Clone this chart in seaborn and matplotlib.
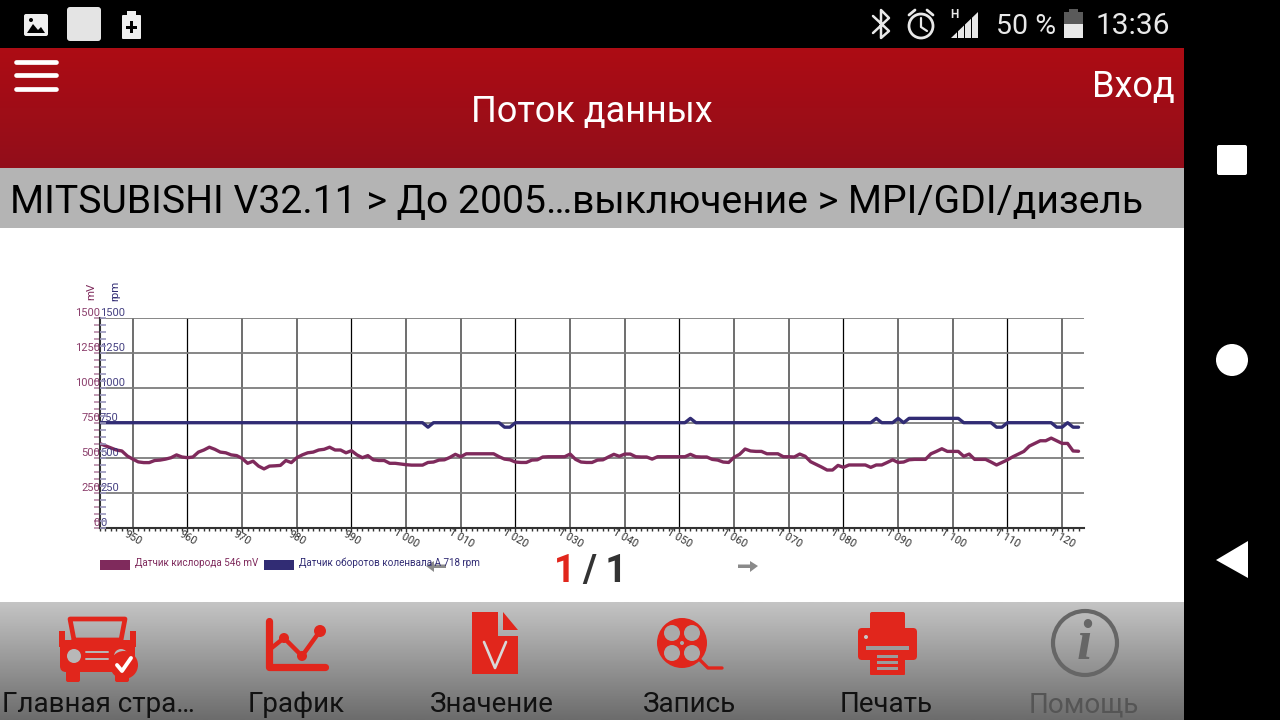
import numpy as np
import pandas as pd
import matplotlib
matplotlib.use('Agg')
import matplotlib.pyplot as plt
from matplotlib.patches import Rectangle, Circle, Polygon, FancyBboxPatch
import seaborn as sns

# Sample numbers on the x axis
samples = list(range(944, 1124))

# Oxygen sensor, mV
oxygen = [
    600, 585, 570, 555, 548, 512,
    490, 470, 465, 465, 480, 483, 490, 500, 520, 505,
    500, 505, 540, 555, 575, 560, 540, 535, 520, 515,
    495, 460, 475, 440, 420, 440, 442, 445, 480, 465,
    500, 520, 535, 540, 555, 560, 575, 555, 555, 535,
    550, 520, 500, 515, 485, 480, 480, 460, 460, 455,
    450, 447, 447, 447, 466, 469, 483, 485, 502, 524,
    507, 528, 528, 528, 528, 528, 528, 507, 490, 485,
    469, 466, 466, 483, 485, 505, 507, 507, 507, 507,
    526, 488, 469, 466, 466, 483, 485, 505, 524, 510,
    526, 526, 507, 505, 505, 490, 507, 507, 507, 507,
    507, 507, 524, 507, 505, 505, 488, 483, 469, 466,
    503, 524, 562, 548, 545, 545, 528, 528, 528, 507,
    507, 505, 526, 510, 471, 452, 433, 412, 412, 445,
    431, 448, 448, 448, 448, 431, 448, 448, 466, 485,
    466, 469, 485, 488, 488, 488, 528, 545, 564, 545,
    545, 545, 510, 526, 488, 488, 488, 469, 448, 466,
    485, 507, 526, 545, 583, 602, 621, 621, 640, 621,
    602, 602, 548, 546,
]

# Crankshaft speed, rpm
rpm = (
    [750] * 60 + [718] + [750] * 13 + [718, 718] + [750] * 32 + [781]
    + [750] * 33 + [781] + [750] * 3 + [781] + [750] + [781] * 10
    + [750] * 6 + [718, 718] + [750] * 9 + [718, 718, 750, 718, 718]
)

x_ticks = list(range(950, 1121, 10))
x_tick_labels = ['950', '960', '970', '980', '990', '1 000', '1 010', '1 020', '1 030',
                 '1 040', '1 050', '1 060', '1 070', '1 080', '1 090', '1 100', '1 110', '1 120']
dark_x_ticks = [960, 990, 1020, 1050, 1080, 1110]
y_ticks = [0, 250, 500, 750, 1000, 1250, 1500]
y_tick_labels = ['0', '250', '500', '750', '1000', '1250', '1500']

oxygen_label = 'Датчик кислорода 546 mV'
rpm_label = 'Датчик оборотов коленвала А 718 rpm'
crumbs = 'MITSUBISHI V32.11 > До 2005…выключение > MPI/GDI/дизель'
toolbar_labels = ['Главная стра…', 'График', 'Значение', 'Запись', 'Печать', 'Помощь']

PINK = '#7f2a5c'
BLUE = '#312c74'
RED = '#e1261c'

sns.set_theme(style='white')
plt.rcParams['font.family'] = ['Roboto', 'DejaVu Sans']

fig = plt.figure(figsize=(12.8, 7.2), dpi=100)

# Screen furniture, drawn in pixel coordinates
ui = fig.add_axes([0, 0, 1, 1], zorder=0)


def gradient(x0, x1, y0, y1, top, bottom):
    c0 = np.array(matplotlib.colors.to_rgb(top))
    c1 = np.array(matplotlib.colors.to_rgb(bottom))
    t = np.linspace(0, 1, 64)[:, None, None]
    ui.imshow(c0 * (1 - t) + c1 * t, extent=[x0, x1, y1, y0], aspect='auto', zorder=1)


def rect(x0, y0, x1, y1, color, z=2):
    ui.add_patch(Rectangle((x0, y0), x1 - x0, y1 - y0, fc=color, ec='none', zorder=z))


def rrect(x0, y0, x1, y1, color, r=3, z=3):
    ui.add_patch(FancyBboxPatch((x0 + r, y0 + r), x1 - x0 - 2 * r, y1 - y0 - 2 * r,
                                boxstyle=f'round,pad={r},rounding_size={r}',
                                fc=color, ec='none', zorder=z))


def circ(x, y, r, color, z=3):
    ui.add_patch(Circle((x, y), r, fc=color, ec='none', zorder=z))


def poly(points, color, z=3):
    ui.add_patch(Polygon(points, closed=True, fc=color, ec='none', zorder=z))


def stroke(xs, ys, color, lw, z=3):
    ui.plot(xs, ys, color=color, lw=lw, solid_capstyle='round', solid_joinstyle='round', zorder=z)


rect(0, 0, 1280, 720, 'white', z=0)
rect(0, 0, 1280, 48, 'black')
rect(1184, 0, 1280, 720, 'black')
gradient(0, 1184, 48, 168, '#ad0c14', '#920e1a')
rect(0, 168, 1184, 228, '#b4b4b4')
gradient(0, 1184, 602, 720, '#c4c4c4', '#6c6c6c')

# Status bar, left
rrect(24, 14, 48, 36, '#efefef', r=2)
poly([(27, 33), (33, 24), (38, 30), (41, 27), (45, 33)], 'black', z=4)
circ(31, 20, 2, 'black', z=4)
rrect(67, 7, 101, 41, '#e4e4e4', r=3)
rrect(122, 15, 141, 39, '#efefef', r=1)
rect(127, 11, 136, 15, '#efefef')
rect(130, 21, 133, 33, 'black', z=4)
rect(126, 26, 137, 29, 'black', z=4)

# Status bar, right
stroke([873, 889, 881, 881, 889, 873], [16, 31, 38, 10, 18, 33], '#e8e8e8', 1.8)
ui.add_patch(Circle((921, 26), 12, fc='none', ec='#e8e8e8', lw=2, zorder=3))
stroke([921, 921, 927], [18, 27, 31], '#e8e8e8', 1.6)
stroke([909, 915], [15, 10], '#e8e8e8', 2)
stroke([927, 933], [10, 15], '#e8e8e8', 2)
poly([(951, 38), (978, 12), (978, 38)], '#e8e8e8')
for gap in [957.5, 964.5, 971.5]:
    rect(gap - 0.7, 10, gap + 0.7, 40, 'black', z=4)
ui.text(954, 14, 'H', color='#e8e8e8', fontsize=8.5, fontweight='bold', ha='center', va='center', zorder=4)
ui.text(1026, 26, '50 %', color='#e8e8e8', fontsize=20.5, ha='center', va='center', zorder=4)
rect(1064, 12, 1083, 38, '#5a5a5a')
rect(1069, 9, 1078, 12, '#5a5a5a')
rect(1064, 24, 1083, 38, '#e8e8e8', z=4)
ui.text(1133, 26, '13:36', color='#e8e8e8', fontsize=21.5, ha='center', va='center', zorder=4)

# Navigation bar
rrect(1217, 145, 1247, 175, 'white', r=2)
circ(1232, 360, 16, 'white')
poly([(1248, 541), (1248, 578), (1216, 560)], 'white')

# Header
for y in [62, 75, 89]:
    stroke([16, 56], [y, y], 'white', 3.4)
ui.text(592, 112, 'Поток данных', color='white', fontsize=26, ha='center', va='center', zorder=4)
ui.text(1133, 87, 'Вход', color='white', fontsize=26, ha='center', va='center', zorder=4)
ui.text(10, 202, crumbs, color='black', fontsize=28.2, ha='left', va='center', zorder=4)

# Legend under the chart
rect(100, 560, 130, 570, PINK)
ui.text(135, 563, oxygen_label, color=PINK, fontsize=7.1, ha='left', va='center', zorder=4)
rect(264, 560, 294, 570, BLUE)
ui.text(299, 563, rpm_label, color=BLUE, fontsize=7.15, ha='left', va='center', zorder=4)

# Page switch
poly([(426, 566), (434, 561), (434, 564.5), (446, 564.5), (446, 568), (434, 568), (434, 572)], '#8a8a8a')
poly([(758, 566), (750, 561), (750, 564.5), (738, 564.5), (738, 568), (750, 568), (750, 572)], '#8a8a8a')
ui.text(565, 572, '1', color=RED, fontsize=27, fontweight='bold', ha='center', va='center', zorder=4)
ui.text(605, 572, '/ 1', color='#333333', fontsize=27, fontweight='bold', ha='center', va='center', zorder=4)

# Toolbar: car
stroke([74, 70, 125, 121, 74], [640, 619, 619, 640, 640], RED, 3.4)
rrect(60, 640, 135, 672, RED, r=6)
rrect(66, 668, 80, 682, RED, r=2)
rrect(115, 668, 129, 682, RED, r=2)
rect(59, 631, 65, 647, RED)
rect(130, 631, 136, 647, RED)
circ(74, 656, 7, '#b8b8b8', z=4)
circ(121, 656, 7, '#b8b8b8', z=4)
stroke([86, 108], [652, 652], '#b8b8b8', 1.4, z=4)
stroke([86, 108], [659, 659], '#b8b8b8', 1.4, z=4)
circ(124, 665, 14, RED, z=5)
stroke([117, 122, 131], [665, 671, 658], 'white', 2.8, z=6)

# Toolbar: graph
stroke([269, 269, 325], [621, 667, 667], RED, 5.2)
stroke([269, 284, 302, 320], [650, 638, 656, 631], RED, 3.2)
circ(284, 638, 5, RED)
circ(302, 656, 5, RED)
circ(320, 631, 6, RED)

# Toolbar: value sheet
poly([(472, 612), (498, 612), (498, 636), (518, 636), (518, 674), (472, 674)], RED)
poly([(503, 612), (518, 630), (503, 630)], RED)
stroke([484, 495, 506], [642, 668, 642], '#d8d8d8', 1.9, z=4)

# Toolbar: film reel
circ(682, 643, 25, RED)
for hx, hy in [(672, 633), (692, 633), (672, 653), (692, 653)]:
    circ(hx, hy, 8, '#aaaaaa', z=4)
circ(682, 643, 2, '#aaaaaa', z=4)
stroke([700, 708, 722], [660, 668, 668], RED, 2.4)

# Toolbar: printer
rrect(870, 612, 905, 630, RED, r=2)
rrect(858, 628, 917, 660, RED, r=4)
rect(866, 646, 909, 650, '#9c9c9c', z=4)
rrect(870, 650, 905, 675, RED, r=1, z=5)
for y in [656, 662, 668]:
    rect(877, y - 1.5, 898, y + 1.5, '#9c9c9c', z=6)
circ(866, 637, 2, '#c8c8c8', z=4)

# Toolbar: help
ui.add_patch(Circle((1085, 643), 32, fc='none', ec='#666666', lw=3, zorder=3))
ui.text(1084, 645, 'i', color='#666666', fontsize=40, family='Liberation Serif',
        fontstyle='italic', fontweight='bold', ha='center', va='center', zorder=4)

# Toolbar captions
label_xs = [98, 296, 492, 689, 886, 1084]
for lx, text in zip(label_xs, toolbar_labels):
    color = '#555555' if text == 'Помощь' else '#111111'
    ui.text(lx, 705, text, color=color, fontsize=20, ha='center', va='center', zorder=4)

ui.set_xlim(0, 1280)
ui.set_ylim(720, 0)
ui.axis('off')

# Chart area
ax = fig.add_axes([100 / 1280, (720 - 527.7) / 720, 984 / 1280, 210 / 720], zorder=2)
ax.patch.set_alpha(0)

for x in x_ticks:
    dark = x in dark_x_ticks
    ax.axvline(x, color='black' if dark else '#555555', lw=0.9 if dark else 1.2, zorder=1)
for y in y_ticks[1:]:
    ax.axhline(y, color='#7d7d7d', lw=1.3, zorder=1)

data = pd.DataFrame({
    'sample': samples * 2,
    'value': oxygen + rpm,
    'series': ['oxygen'] * len(samples) + ['rpm'] * len(samples),
})
sns.lineplot(data=data, x='sample', y='value', hue='series',
             palette={'oxygen': PINK, 'rpm': BLUE}, lw=2.4, legend=False, ax=ax, zorder=3)

ax.set_xlim(944, 1124)
ax.set_ylim(0, 1500)
ax.set_xlabel('')
ax.set_ylabel('')
ax.grid(False)
for side in ['top', 'right']:
    ax.spines[side].set_visible(False)
for side in ['left', 'bottom']:
    ax.spines[side].set_color('#333333')
    ax.spines[side].set_linewidth(1.5)

ax.set_xticks(x_ticks)
ax.set_xticklabels(x_tick_labels, rotation=-30, ha='center', va='center', rotation_mode='anchor',
                   fontsize=7.8, color='#333333')
ax.set_xticks(samples, minor=True)
ax.tick_params(axis='x', which='major', length=3, width=1, color='#333333', pad=4.6, bottom=True)
ax.tick_params(axis='x', which='minor', length=2, width=1, color='#333333', bottom=True)

# Both scales share the left edge: pink ticks go out, blue ticks come in
ax.set_yticks(np.arange(0, 1501, 50))
ax.set_yticklabels([])
ax.tick_params(axis='y', which='major', direction='out', length=4.2, width=1.2, color='#b98aa8', left=True)
ax_rpm = ax.twinx()
ax_rpm.set_ylim(0, 1500)
ax_rpm.patch.set_alpha(0)
ax_rpm.grid(False)
ax_rpm.yaxis.tick_left()
ax_rpm.set_yticks(np.arange(0, 1501, 50))
ax_rpm.set_yticklabels([])
ax_rpm.tick_params(axis='y', direction='in', length=4.2, width=1.2, color='#9a97bd', left=True)
for side in ax_rpm.spines:
    ax_rpm.spines[side].set_visible(False)

trans = ax.get_yaxis_transform()
for v, label in zip(y_ticks, y_tick_labels):
    ax.annotate(label, xy=(0, v), xycoords=trans, xytext=(0, 3.7), textcoords='offset points',
                color=PINK, fontsize=8, ha='right', va='center', alpha=0.9)
    ax.annotate(label, xy=(0, v), xycoords=trans, xytext=(0, 3.7), textcoords='offset points',
                color=BLUE, fontsize=8, ha='left', va='center', alpha=0.9)

fig.text(91 / 1280, 1 - 291 / 720, 'mV', color=PINK, fontsize=8.2, rotation=90, ha='center', va='center')
fig.text(115 / 1280, 1 - 291 / 720, 'rpm', color=BLUE, fontsize=8.2, rotation=90, ha='center', va='center')

fig.savefig('out.png', dpi=100)
